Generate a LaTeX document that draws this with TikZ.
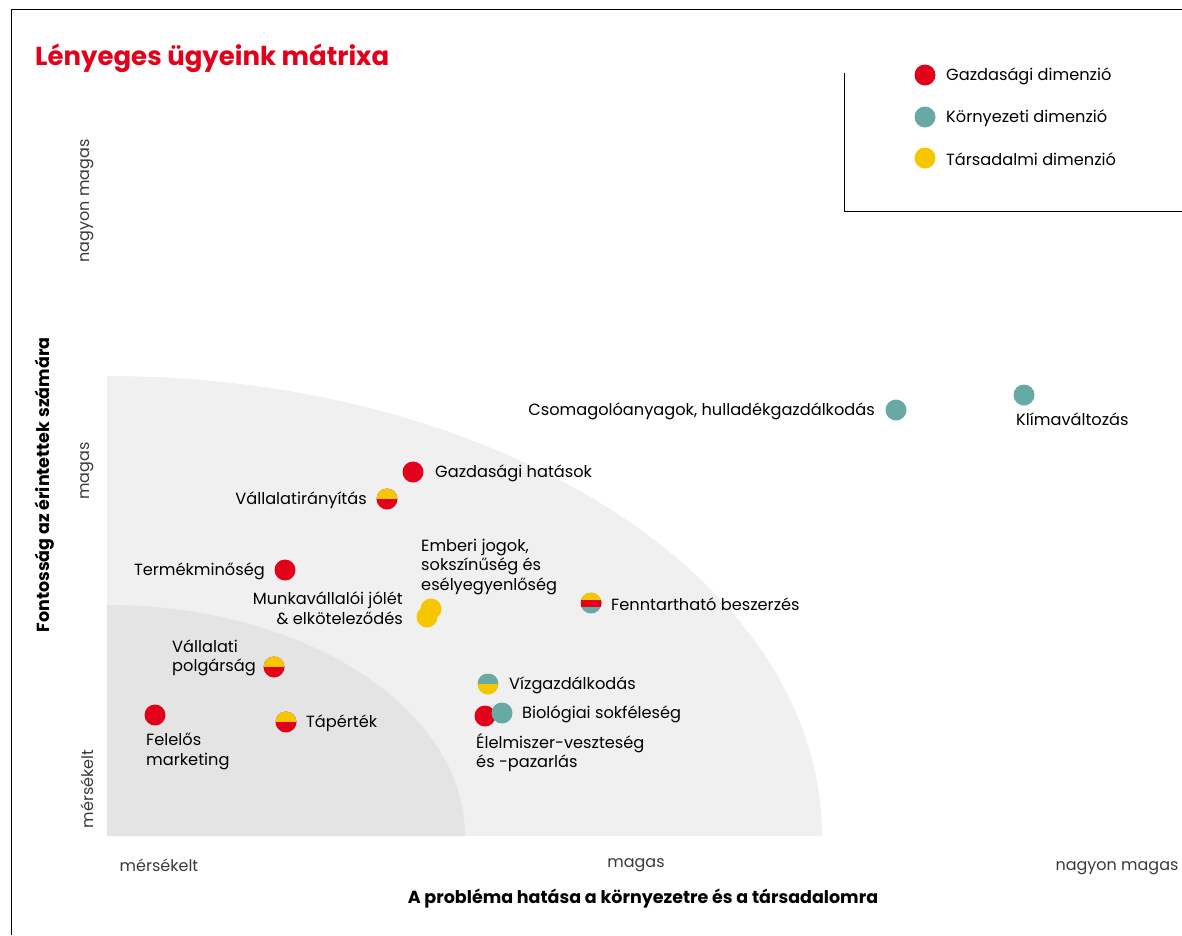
\documentclass[tikz,border=0pt]{standalone}
\usepackage{fontspec}
\setmainfont{Poppins}
\definecolor{mred}{HTML}{E2001A}
\definecolor{mteal}{HTML}{66A9A5}
\definecolor{myel}{HTML}{F6C700}
\definecolor{lgray}{HTML}{F0F0F0}
\definecolor{dgray}{HTML}{E4E4E4}
\definecolor{tick}{HTML}{3A3A3A}
\begin{document}
\begin{tikzpicture}[x=1pt,y=-1pt,
  lbl/.style={font=\fontsize{16.2}{19.5}\selectfont, inner sep=0pt, text=black},
  ticklbl/.style={font=\fontsize{16}{19}\selectfont, inner sep=0pt, text=tick},
  axtitle/.style={font=\fontsize{17.5}{20}\selectfont\bfseries, inner sep=0pt},
  dot/.style={circle, minimum size=21pt, inner sep=0pt},
  rdot/.style={dot, fill=mred},
  tdot/.style={dot, fill=mteal},
  ydot/.style={dot, fill=myel},
  splityr/.style={dot, fill=mred, path picture={\fill[myel] (path picture bounding box.north west) rectangle (path picture bounding box.east);}},
  splitty/.style={dot, fill=myel, path picture={\fill[mteal] (path picture bounding box.north west) rectangle (path picture bounding box.east);}},
  tristripe/.style={dot, fill=mteal, path picture={
     \fill[myel] (path picture bounding box.north west) rectangle ([yshift=3.5pt]path picture bounding box.east);
     \fill[mred] ([yshift=3.5pt]path picture bounding box.west) rectangle ([yshift=-3.5pt]path picture bounding box.east);}},
  frame/.style={draw=black, line width=1pt}
]
\useasboundingbox (0,0) rectangle (1182,935);
% frame
\draw[frame] (11,935) -- (11,9) -- (1182,9);
% legend box
\draw[frame] (844,73) -- (844,211) -- (1182,211);
% title
\node[anchor=west, inner sep=0pt, text=mred, font=\fontsize{26}{30}\selectfont\bfseries] (title) at (35,58) {Lényeges ügyeink mátrixa};
% regions
\fill[lgray] (107,836) -- (107,376) arc[start angle=-90, end angle=0, x radius=715, y radius=460] -- cycle;
\fill[dgray] (107,836) -- (107,605) arc[start angle=-90, end angle=0, x radius=358, y radius=231] -- cycle;
% legend
\node[rdot] (lg1) at (925,75) {};
\node[tdot] (lg2) at (925,117) {};
\node[ydot] (lg3) at (925,158) {};
\node[lbl, anchor=west] (lgt1) at (946,76) {Gazdasági dimenzió};
\node[lbl, anchor=west] (lgt2) at (946,118) {Környezeti dimenzió};
\node[lbl, anchor=west] (lgt3) at (946,159) {Társadalmi dimenzió};
% axis labels
\node[axtitle, rotate=90] (ytitle) at (45,485) {Fontosság az érintettek számára};
\node[ticklbl, rotate=90] (y3) at (87,201) {nagyon magas};
\node[ticklbl, rotate=90] (y2) at (87,471) {magas};
\node[ticklbl, rotate=90] (y1) at (87,789) {mérsékelt};
\node[ticklbl] (x1) at (159,865) {mérsékelt};
\node[ticklbl] (x2) at (636,865) {magas};
\node[ticklbl] (x3) at (1117,868) {nagyon magas};
\node[axtitle] (xtitle) at (643,899) {A probléma hatása a környezetre és a társadalomra};
% data points
\node[rdot] (gh) at (413,472) {};
\node[lbl, anchor=west] (ghl) at (435,473) {Gazdasági hatások};
\node[splityr] (vi) at (387,499) {};
\node[lbl, anchor=east] (vil) at (367,500) {Vállalatirányítás};
\node[rdot] (tm) at (285,570) {};
\node[lbl, anchor=east] (tml) at (265,571) {Termékminőség};
\node[ydot] (mv1) at (431,609) {};
\node[ydot] (mv2) at (427,617) {};
\node[lbl, anchor=east, align=right] (mvl) at (403,608) {Munkavállalói jólét\\\& elköteleződés};
\node[lbl, anchor=west, align=left] (ejl) at (421,567) {Emberi jogok,\\sokszínűség és\\esélyegyenlőség};
\node[tristripe] (fb) at (591,603) {};
\node[lbl, anchor=west] (fbl) at (611,604) {Fenntartható beszerzés};
\node[splityr] (vp) at (274,667) {};
\node[lbl, anchor=west, align=left] (vpl) at (172,658) {Vállalati\\polgárság};
\node[rdot] (fm) at (155,715) {};
\node[lbl, anchor=north west, align=left] (fml) at (146,733) {Felelős\\marketing};
\node[splityr] (tp) at (286,722) {};
\node[lbl, anchor=west] (tpl) at (306,723) {Tápérték};
\node[splitty] (vg) at (488,684) {};
\node[lbl, anchor=west] (vgl) at (509,685) {Vízgazdálkodás};
\node[rdot] (el) at (485,716) {};
\node[tdot] (bs) at (502,713) {};
\node[lbl, anchor=west] (bsl) at (522,714) {Biológiai sokféleség};
\node[lbl, anchor=north west, align=left] (ell) at (476,733) {Élelmiszer-veszteség\\és -pazarlás};
\node[tdot] (cs) at (896,410) {};
\node[lbl, anchor=east] (csl) at (875,411) {Csomagolóanyagok, hulladékgazdálkodás};
\node[tdot] (kv) at (1024,395) {};
\node[lbl, anchor=north west] (kvl) at (1016,413) {Klímaváltozás};
\end{tikzpicture}
\end{document}
